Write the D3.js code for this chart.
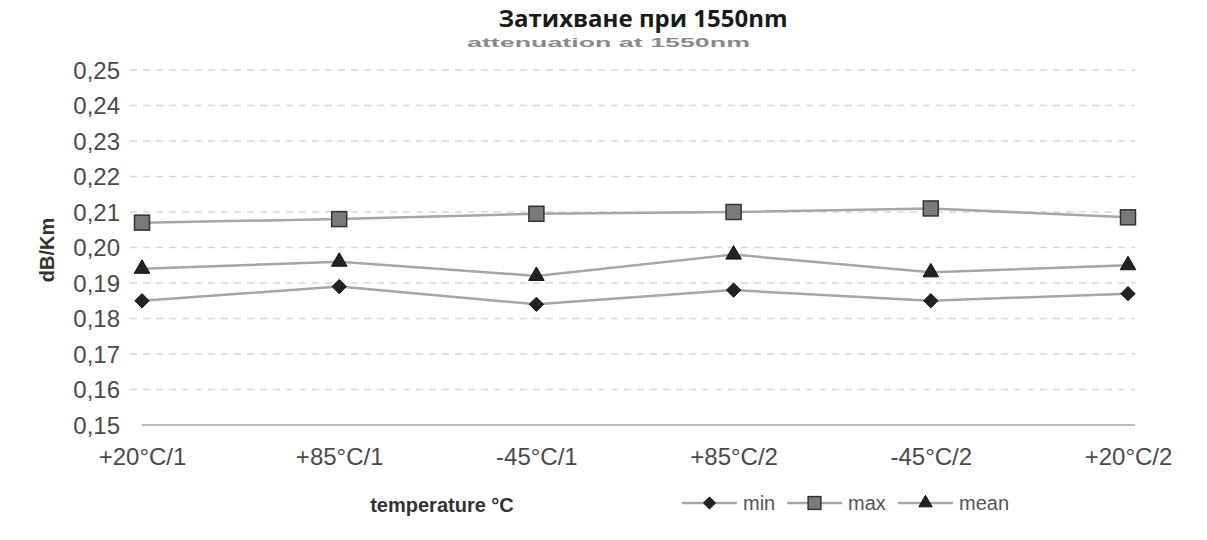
<!DOCTYPE html>
<html>
<head>
<meta charset="utf-8">
<script src="https://cdn.jsdelivr.net/npm/d3@7"></script>
<style>
  html, body { margin: 0; padding: 0; background: #fff; }
  svg { display: block; }
</style>
</head>
<body>
<svg id="chart" width="1207" height="540"></svg>
<script>
// ---- data ----
const categories = ["+20°C/1", "+85°C/1", "-45°C/1", "+85°C/2", "-45°C/2", "+20°C/2"];
const minValues  = [0.185, 0.189, 0.184, 0.188, 0.185, 0.187];
const maxValues  = [0.207, 0.208, 0.2095, 0.210, 0.211, 0.2085];
const meanValues = [0.194, 0.196, 0.192, 0.198, 0.193, 0.195];
const yTicks = [0.15, 0.16, 0.17, 0.18, 0.19, 0.20, 0.21, 0.22, 0.23, 0.24, 0.25];
const seriesNames = ["min", "max", "mean"];
const titleText = "Затихване при 1550nm";
const ghostTitle = "attenuation at 1550nm";
const yTitle = "dB/Km";
const xTitle = "temperature °C";

const series = [
  { name: seriesNames[0], values: minValues,  shape: "diamond" },
  { name: seriesNames[1], values: maxValues,  shape: "square" },
  { name: seriesNames[2], values: meanValues, shape: "triangle" }
];

const svg = d3.select("#chart");

const x = d3.scalePoint().domain(categories).range([142, 1128]).padding(0);
const y = d3.scaleLinear().domain([0.15, 0.25]).range([425, 70]);

const fmt = v => d3.format(".2f")(v).replace(".", ",");

// title
svg.append("text")
  .attr("x", 643).attr("y", 27)
  .attr("text-anchor", "middle")
  .attr("font-family", "'Open Sans', sans-serif")
  .attr("font-weight", "bold")
  .attr("font-size", 24)
  .attr("fill", "#1a1a1a")
  .text(titleText);

// ghost (partly hidden) old title, only its lower part shows
svg.append("text")
  .attr("x", 467).attr("y", 47)
  .attr("textLength", 283)
  .attr("lengthAdjust", "spacingAndGlyphs")
  .attr("font-family", "'Liberation Sans', Arial, sans-serif")
  .attr("font-weight", "bold")
  .attr("font-size", 13)
  .attr("fill", "#8a8a8a")
  .text(ghostTitle);

// gridlines
const grid = svg.append("g");
grid.selectAll("line.grid")
  .data(yTicks.filter(t => t > 0.15))
  .join("line")
  .attr("class", "grid")
  .attr("x1", 130).attr("x2", 1135)
  .attr("y1", d => y(d)).attr("y2", d => y(d))
  .attr("stroke", "#d8d8d8")
  .attr("stroke-width", 1.5)
  .attr("stroke-dasharray", "7,6");

// bottom axis line
svg.append("line")
  .attr("x1", 142).attr("x2", 1135)
  .attr("y1", y(0.15)).attr("y2", y(0.15))
  .attr("stroke", "#bdbdbd").attr("stroke-width", 2);

// y axis labels
const yAxis = d3.axisLeft(y).tickValues(yTicks).tickFormat(fmt).tickSize(0).tickPadding(0);
const gy = svg.append("g").attr("transform", "translate(120,0)").call(yAxis);
gy.select(".domain").remove();
gy.selectAll("text")
  .attr("font-family", "'Liberation Sans', Arial, sans-serif")
  .attr("font-size", 24)
  .attr("fill", "#4a4a4a")
  .attr("dy", "0.35em");

// x axis labels
const xAxis = d3.axisBottom(x).tickSize(0).tickPadding(0);
const gx = svg.append("g").attr("transform", "translate(0,457)").call(xAxis);
gx.select(".domain").remove();
gx.selectAll("text")
  .attr("font-family", "'Liberation Sans', Arial, sans-serif")
  .attr("font-size", 24)
  .attr("fill", "#4a4a4a")
  .attr("dy", "0.35em");

// axis titles
svg.append("text")
  .attr("transform", "translate(54,250) rotate(-90)")
  .attr("text-anchor", "middle")
  .attr("font-family", "'Liberation Sans', Arial, sans-serif")
  .attr("font-weight", "bold")
  .attr("font-size", 20)
  .attr("fill", "#333")
  .text(yTitle);

svg.append("text")
  .attr("x", 442).attr("y", 512)
  .attr("text-anchor", "middle")
  .attr("font-family", "'Liberation Sans', Arial, sans-serif")
  .attr("font-weight", "bold")
  .attr("font-size", 20)
  .attr("fill", "#333")
  .text(xTitle);

// marker helper
function drawMarker(g, shape, cx, cy, scale) {
  const k = scale || 1;
  if (shape === "diamond") {
    g.append("path")
      .attr("d", d3.symbol().type(d3.symbolDiamond2).size(130 * k * k)())
      .attr("transform", `translate(${cx},${cy})`)
      .attr("fill", "#222").attr("stroke", "#111").attr("stroke-width", 1);
  } else if (shape === "square") {
    const s = 15 * k;
    g.append("rect")
      .attr("x", cx - s / 2).attr("y", cy - s / 2)
      .attr("width", s).attr("height", s)
      .attr("fill", "#7a7a7a").attr("stroke", "#333").attr("stroke-width", 1.5);
  } else {
    g.append("path")
      .attr("d", d3.symbol().type(d3.symbolTriangle).size(105 * k * k)())
      .attr("transform", `translate(${cx},${cy})`)
      .attr("fill", "#222").attr("stroke", "#111").attr("stroke-width", 1);
  }
}

// series lines + markers
const line = d3.line().x((d, i) => x(categories[i])).y(d => y(d));
series.forEach(s => {
  svg.append("path")
    .datum(s.values)
    .attr("d", line)
    .attr("fill", "none")
    .attr("stroke", "#a6a6a6")
    .attr("stroke-width", 2.5);
});
series.forEach(s => {
  const g = svg.append("g");
  s.values.forEach((v, i) => drawMarker(g, s.shape, x(categories[i]), y(v)));
});

// legend
const legendX = [682, 787, 898];
const legendY = 503;
series.forEach((s, i) => {
  const g = svg.append("g");
  const x0 = legendX[i];
  g.append("line")
    .attr("x1", x0).attr("x2", x0 + 55)
    .attr("y1", legendY).attr("y2", legendY)
    .attr("stroke", "#a6a6a6").attr("stroke-width", 2.5);
  drawMarker(g, s.shape, x0 + 27.5, legendY, 0.85);
  g.append("text")
    .attr("x", x0 + 61).attr("y", legendY)
    .attr("dy", "0.35em")
    .attr("font-family", "'Liberation Sans', Arial, sans-serif")
    .attr("font-size", 20)
    .attr("fill", "#555")
    .text(s.name);
});
</script>
</body>
</html>
